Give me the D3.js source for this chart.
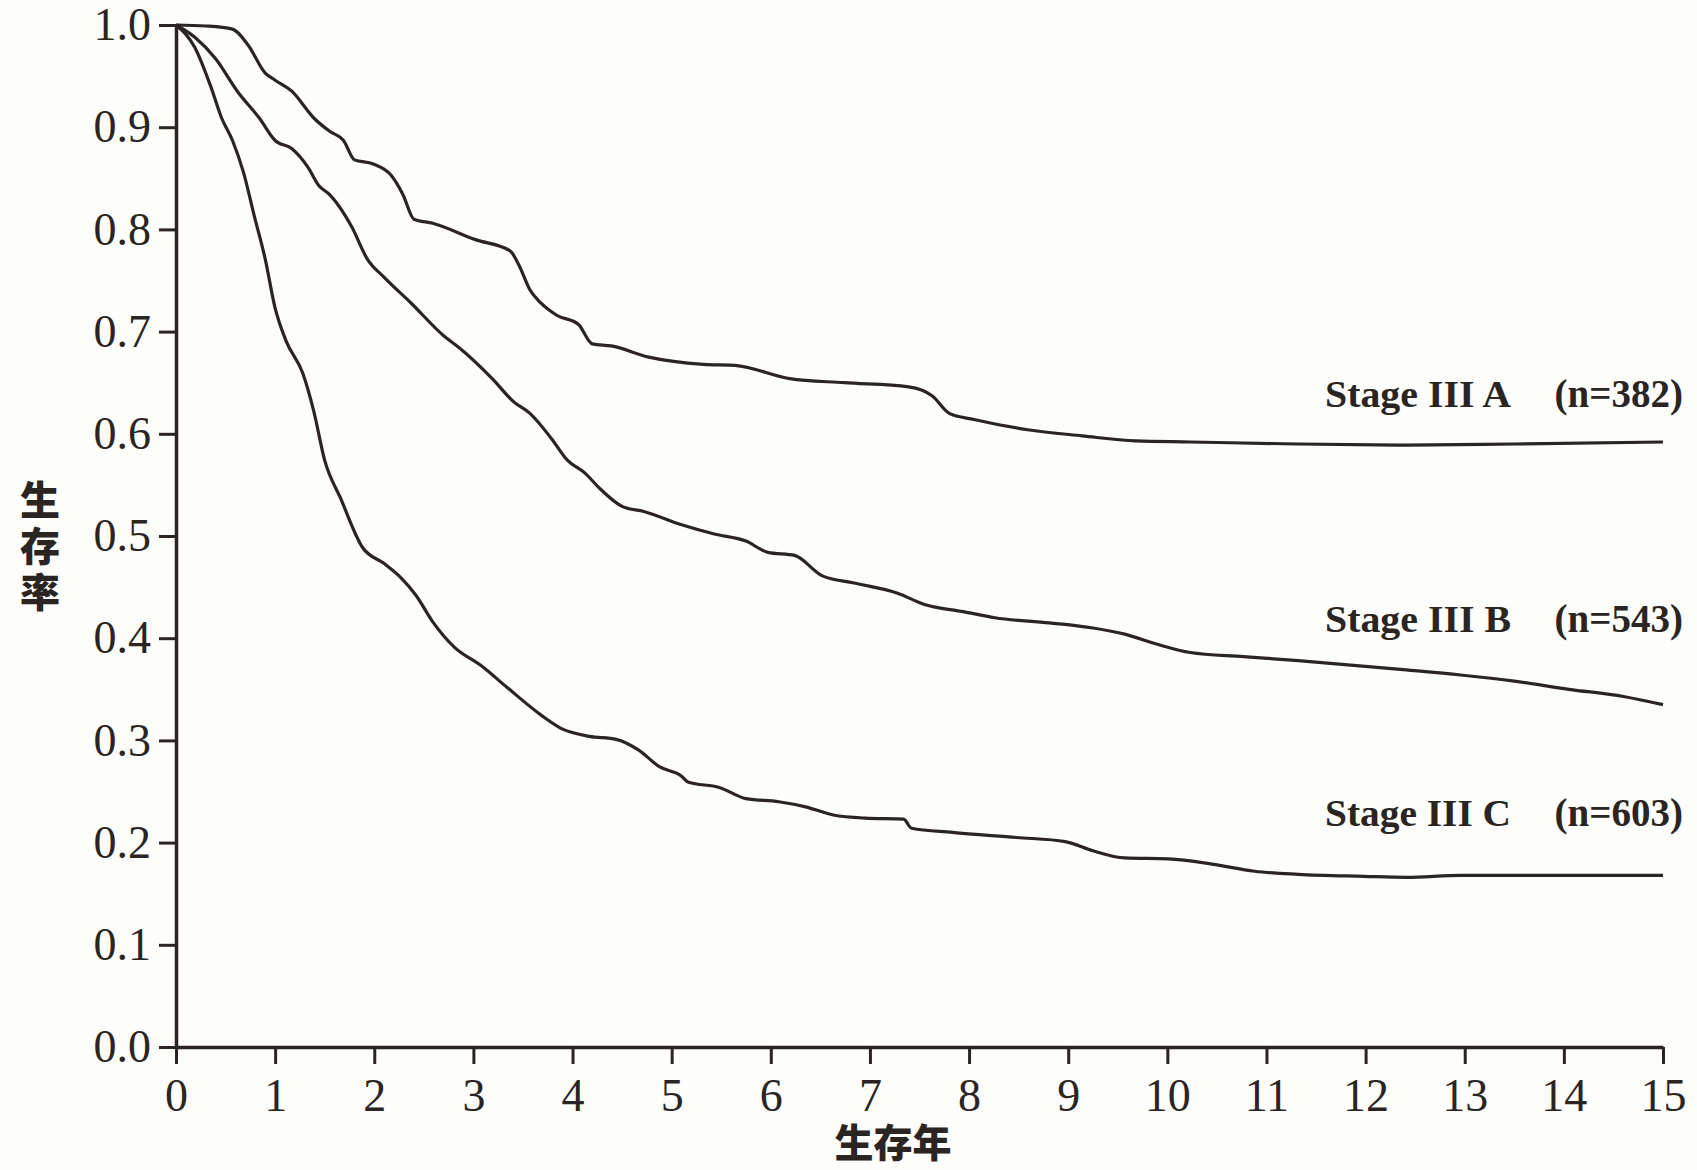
<!DOCTYPE html>
<html>
<head>
<meta charset="utf-8">
<script src="https://cdn.jsdelivr.net/npm/d3@7"></script>
<style>
  body { margin: 0; background: #fdfdfb; }
  svg { display: block; }
</style>
</head>
<body>
<div id="chart"></div>
<script>
// survival data: years, survival rate
var stageA = [
  [0,1.0],[0.3,0.999],[0.57,0.996],[0.73,0.98],[0.9,0.953],[1.0,0.946],[1.17,0.935],[1.39,0.909],
  [1.55,0.896],[1.69,0.887],[1.8,0.868],[1.99,0.864],[2.17,0.853],[2.29,0.834],[2.4,0.81],
  [2.59,0.806],[3.02,0.79],[3.37,0.779],[3.46,0.765],[3.57,0.741],[3.68,0.728],[3.84,0.716],
  [4.06,0.707],[4.2,0.688],[4.39,0.686],[4.77,0.675],[5.32,0.668],[5.64,0.667],[6.19,0.654],
  [6.74,0.65],[7.39,0.646],[7.63,0.637],[7.8,0.62],[8.05,0.614],[8.59,0.604],[9.14,0.598],
  [9.68,0.593],[10.23,0.592],[11.32,0.59],[12.41,0.589],[13.5,0.59],[15,0.592]
];
var stageB = [
  [0,1.0],[0.19,0.988],[0.4,0.967],[0.62,0.935],[0.84,0.909],[1.0,0.887],[1.17,0.879],[1.33,0.861],
  [1.44,0.843],[1.55,0.834],[1.77,0.803],[1.93,0.771],[2.1,0.753],[2.37,0.728],[2.7,0.696],
  [2.86,0.684],[3.19,0.654],[3.41,0.631],[3.57,0.62],[3.79,0.595],[3.95,0.574],[4.12,0.562],
  [4.28,0.546],[4.5,0.529],[4.72,0.524],[5.1,0.511],[5.43,0.502],[5.75,0.495],[5.97,0.484],
  [6.24,0.481],[6.52,0.461],[6.84,0.454],[7.28,0.444],[7.55,0.433],[7.94,0.426],[8.26,0.42],
  [8.81,0.415],[9.25,0.41],[9.57,0.404],[9.9,0.394],[10.23,0.386],[10.77,0.382],[11.32,0.378],
  [12.41,0.369],[12.96,0.364],[13.5,0.358],[14.05,0.35],[14.6,0.343],[15,0.335]
];
var stageC = [
  [0,1.0],[0.19,0.978],[0.35,0.94],[0.46,0.909],[0.57,0.887],[0.68,0.856],[0.79,0.813],[0.9,0.771],
  [1.0,0.723],[1.11,0.691],[1.28,0.659],[1.39,0.622],[1.5,0.574],[1.66,0.537],[1.88,0.489],
  [2.1,0.473],[2.26,0.46],[2.42,0.442],[2.59,0.416],[2.81,0.391],[3.08,0.373],[3.35,0.351],
  [3.68,0.325],[3.9,0.311],[4.17,0.304],[4.44,0.301],[4.66,0.291],[4.88,0.274],[5.1,0.265],
  [5.17,0.259],[5.48,0.254],[5.75,0.243],[6.08,0.24],[6.35,0.235],[6.63,0.227],[6.95,0.224],
  [7.34,0.223],[7.42,0.214],[7.83,0.21],[8.48,0.205],[8.97,0.201],[9.25,0.192],[9.57,0.185],
  [10.01,0.184],[10.45,0.179],[10.88,0.172],[11.32,0.169],[11.98,0.167],[12.41,0.166],
  [12.96,0.168],[14.05,0.168],[15,0.168]
];
var stageNames = ["Stage III A", "Stage III B", "Stage III C"];
var stageCounts = ["(n=382)", "(n=543)", "(n=603)"];
var xTicks = d3.range(0, 16);
var yTicks = d3.range(0, 11).map(function(d){ return d / 10; });

var width = 1697, height = 1170;
var margin = {left: 176, top: 25, right: 34, bottom: 123};
var ink = "#2a2523";

var svg = d3.select("#chart").append("svg")
    .attr("width", width)
    .attr("height", height);

var x = d3.scaleLinear().domain([0, 15]).range([margin.left, width - margin.right]);
var y = d3.scaleLinear().domain([0, 1]).range([height - margin.bottom, margin.top]);

// axes
var yAxis = svg.append("g")
    .attr("transform", "translate(" + margin.left + ",0)")
    .call(d3.axisLeft(y).tickValues(yTicks).tickFormat(d3.format(".1f")).tickSize(17).tickSizeOuter(0).tickPadding(8));
var xAxis = svg.append("g")
    .attr("transform", "translate(0," + (height - margin.bottom) + ")")
    .call(d3.axisBottom(x).tickValues(xTicks).tickSize(17).tickSizeOuter(0).tickPadding(14));

[yAxis, xAxis].forEach(function(ax){
    ax.select(".domain").attr("stroke", ink).attr("stroke-width", 3.5);
    ax.selectAll(".tick line").attr("stroke", ink).attr("stroke-width", 3);
    ax.selectAll(".tick text")
        .attr("fill", ink)
        .style("font-family", "'Liberation Serif', 'Times New Roman', serif")
        .style("font-size", "46px");
});

// curves
var line = d3.line()
    .x(function(d){ return x(d[0]); })
    .y(function(d){ return y(d[1]); })
    .curve(d3.curveMonotoneX);

[stageA, stageB, stageC].forEach(function(s){
    svg.append("path")
        .datum(s)
        .attr("d", line)
        .attr("fill", "none")
        .attr("stroke", ink)
        .attr("stroke-width", 3.2)
        .attr("stroke-linejoin", "round");
});

// labels next to curves
var labelY = [407, 632, 826];
stageNames.forEach(function(name, i){
    svg.append("text")
        .attr("x", 1325).attr("y", labelY[i])
        .attr("fill", ink)
        .attr("textLength", 186)
        .attr("lengthAdjust", "spacingAndGlyphs")
        .style("font-family", "'Liberation Serif', serif")
        .style("font-weight", "bold")
        .style("font-size", "37px")
        .text(name);
    svg.append("text")
        .attr("x", 1683).attr("y", labelY[i])
        .attr("text-anchor", "end")
        .attr("fill", ink)
        .style("font-family", "'Liberation Serif', serif")
        .style("font-weight", "bold")
        .style("font-size", "39px")
        .text(stageCounts[i]);
});

// axis titles
var cjk = "'Noto Sans CJK SC', 'Noto Sans CJK JP', sans-serif";
svg.append("text")
    .attr("x", 40).attr("y", 480)
    .attr("fill", ink)
    .style("font-family", cjk)
    .style("font-weight", "900")
    .style("font-size", "40px")
    .style("writing-mode", "vertical-rl")
    .style("text-orientation", "upright")
    .style("letter-spacing", "6px")
    .text("生存率");

svg.append("text")
    .attr("x", 893).attr("y", 1157)
    .attr("text-anchor", "middle")
    .attr("fill", ink)
    .style("font-family", cjk)
    .style("font-weight", "900")
    .style("font-size", "39px")
    .text("生存年");
</script>
</body>
</html>
